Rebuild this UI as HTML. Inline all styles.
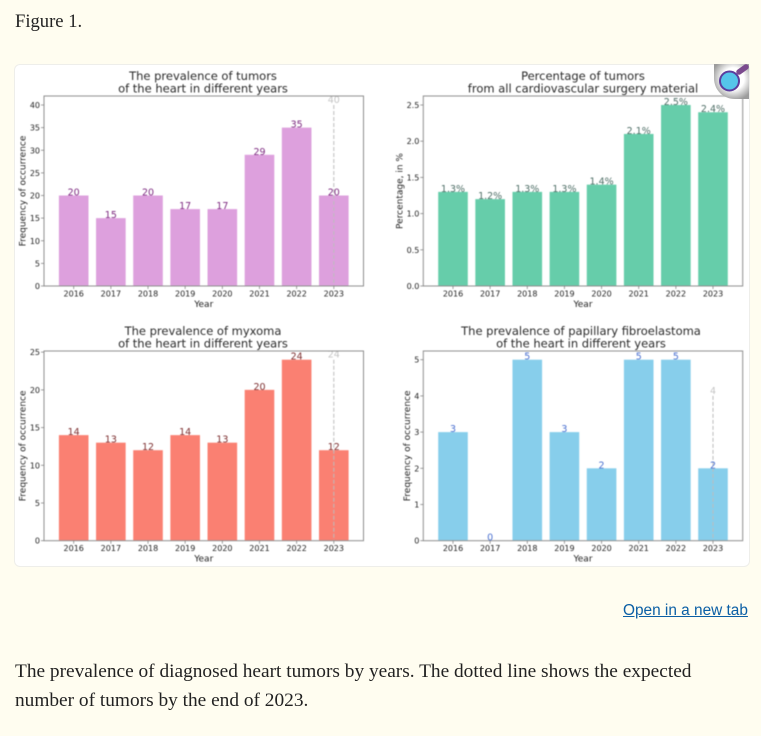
<!DOCTYPE html>
<html lang="en">
<head>
<meta charset="utf-8">
<title>Figure 1</title>
<style>
html,body{margin:0;padding:0;width:761px;height:736px;overflow:hidden;background:#fffdf0;}
body{position:relative;font-family:"Liberation Serif","DejaVu Serif",serif;color:#222;}
.line{position:absolute;white-space:nowrap;font-size:19.35px;}
#card{position:absolute;left:14px;top:64px;width:734px;height:501px;background:#fff;border:1px solid #eeeeea;border-radius:6px;}
#charts{position:absolute;left:0;top:0;filter:blur(0.4px);}
#charts text{font-family:"DejaVu Sans","Liberation Sans",sans-serif;}
#open-link{position:absolute;left:623px;top:602px;font:15.4px "Liberation Sans",sans-serif;color:#0b5fa5;text-decoration:underline;white-space:nowrap;}
</style>
</head>
<body>
<div class="line" style="left:15px;top:11px;font-size:18.6px;">Figure 1.</div>
<div id="card"></div>
<svg id="charts" width="761" height="736" viewBox="0 0 761 736" xmlns="http://www.w3.org/2000/svg"></svg>
<svg style="position:absolute;left:713px;top:64px;" width="37" height="38" viewBox="0 0 37 38">
  <defs><radialGradient id="mg" cx="0.55" cy="0.42" r="0.62"><stop offset="0.5" stop-color="#ffffff"/><stop offset="1" stop-color="#9c9c9c"/></radialGradient></defs>
  <path d="M1 0H36V35H22C10 35 1 26 1 14Z" fill="url(#mg)"/>
  <line x1="26" y1="8" x2="33" y2="3" stroke="#7b4a8e" stroke-width="5.5" stroke-linecap="round"/>
  <circle cx="16.5" cy="17" r="9.5" fill="#55c5ea" stroke="#5b3d9e" stroke-width="2"/>
</svg>
<a id="open-link" href="#">Open in a new tab</a>
<div class="line" style="left:15px;top:660.5px;">The prevalence of diagnosed heart tumors by years. The dotted line shows the expected</div>
<div class="line" style="left:15px;top:689.5px;">number of tumors by the end of 2023.</div>
<script>
const years = ["2016","2017","2018","2019","2020","2021","2022","2023"];

const tumorCounts = [20,15,20,17,17,29,35,20];
const tumorExpected = 40;
const tumorTicks = [0,5,10,15,20,25,30,35,40];

const surgeryPercent = [1.3,1.2,1.3,1.3,1.4,2.1,2.5,2.4];
const surgeryTicks = [0,0.5,1,1.5,2,2.5];

const myxomaCounts = [14,13,12,14,13,20,24,12];
const myxomaExpected = 24;
const myxomaTicks = [0,5,10,15,20,25];

const fibroCounts = [3,0,5,3,2,5,5,2];
const fibroExpected = 4;
const fibroTicks = [0,1,2,3,4,5];

const svg = document.getElementById('charts');
const NS = 'http://www.w3.org/2000/svg';

function make(tag, attrs, parent, content) {
  const el = document.createElementNS(NS, tag);
  for (const k in attrs) el.setAttribute(k, attrs[k]);
  if (content !== undefined) el.textContent = content;
  parent.appendChild(el);
  return el;
}

function drawChart(cfg) {
  const g = make('g', {}, svg);
  
  

  const xScale = i => cfg.left + 29.7 + i * (cfg.right - cfg.left - 59.4) / (years.length - 1);
  const yScale = v => cfg.bottom - (v / cfg.yRef) * (cfg.bottom - cfg.yRefPos);
  const barW = 29.6;

  cfg.values.forEach((v, i) => {
    const bar = make('rect', {x: xScale(i) - barW / 2, y: yScale(v), width: barW, height: cfg.bottom - yScale(v), fill: cfg.color}, g);
    
    
  });

  if (cfg.expected !== null) {
    const last = years.length - 1;
    const dash = make('line', {x1: xScale(last), x2: xScale(last), y1: yScale(cfg.expected), y2: cfg.bottom, stroke: '#bdbdbd', 'stroke-width': 1, 'stroke-dasharray': '4 2'}, g);
    
    
    const exp = make('text', {x: xScale(last), y: yScale(cfg.expected) - 2, 'text-anchor': 'middle', 'font-size': 9.5, fill: '#c4c4c4'}, g, String(cfg.expected));
    
    
  }

  const frame = make('rect', {x: cfg.left, y: cfg.top, width: cfg.right - cfg.left, height: cfg.bottom - cfg.top, fill: 'none', stroke: '#8f8f8f', 'stroke-width': 1}, g);
  
  

  cfg.values.forEach((v, i) => {
    const lab = make('text', {x: xScale(i), y: yScale(v), 'text-anchor': 'middle', 'font-size': 9.5, fill: cfg.labelColor}, g, v + cfg.suffix);
    
    
  });

  years.forEach((yr, i) => {
    make('line', {x1: xScale(i), x2: xScale(i), y1: cfg.bottom, y2: cfg.bottom + 3, stroke: '#777', 'stroke-width': 0.7}, g);
    const t = make('text', {x: xScale(i), y: cfg.bottom + 10.4, 'text-anchor': 'middle', 'font-size': 8, fill: '#222'}, g, yr);
    
    
  });

  cfg.ticks.forEach(v => {
    make('line', {x1: cfg.left - 3, x2: cfg.left, y1: yScale(v), y2: yScale(v), stroke: '#777', 'stroke-width': 0.7}, g);
    const t = make('text', {x: cfg.left - 4, y: yScale(v) + 3, 'text-anchor': 'end', 'font-size': 8, fill: '#222'}, g, cfg.tickFmt(v));
    
    
  });

  cfg.title.forEach((line, i) => {
    const t = make('text', {x: cfg.titleX, y: cfg.top - 16 + i * 12.3, 'text-anchor': 'middle', 'font-size': 11.5, fill: '#2a2a2a'}, g, line);
    
    
  });

  const xt = make('text', {x: (cfg.left + cfg.right) / 2, y: cfg.bottom + 21, 'text-anchor': 'middle', 'font-size': 9, fill: '#222'}, g, 'Year');
  
  

  const cy = (cfg.top + cfg.bottom) / 2;
  const yt = make('text', {x: cfg.yLabelX, y: cy, 'text-anchor': 'middle', 'font-size': 9, fill: '#222', transform: 'rotate(-90 ' + cfg.yLabelX + ' ' + cy + ')'}, g, cfg.yLabel);
  
  
}

const intFmt = v => String(v);
const decFmt = v => v.toFixed(1);

drawChart({name:'chart-tumors', left:44, right:363.5, top:96, bottom:286, yRef:40, yRefPos:105,
  values:tumorCounts, expected:tumorExpected, ticks:tumorTicks, tickFmt:intFmt, suffix:'',
  color:'#dda0dd', labelColor:'#7d2a80', titleX:203, yLabelX:25.5, yLabel:'Frequency of occurrence',
  title:['The prevalence of tumors','of the heart in different years']});

drawChart({name:'chart-surgery-percentage', left:423.3, right:742.7, top:96, bottom:286, yRef:2.5, yRefPos:105,
  values:surgeryPercent, expected:null, ticks:surgeryTicks, tickFmt:decFmt, suffix:'%',
  color:'#66cdaa', labelColor:'#4f6f67', titleX:583, yLabelX:402.5, yLabel:'Percentage, in %',
  title:['Percentage of tumors','from all cardiovascular surgery material']});

drawChart({name:'chart-myxoma', left:44, right:363.5, top:351, bottom:540.7, yRef:24, yRefPos:359.7,
  values:myxomaCounts, expected:myxomaExpected, ticks:myxomaTicks, tickFmt:intFmt, suffix:'',
  color:'#fa8072', labelColor:'#7d2f30', titleX:203, yLabelX:25.5, yLabel:'Frequency of occurrence',
  title:['The prevalence of myxoma','of the heart in different years']});

drawChart({name:'chart-fibroelastoma', left:423.3, right:742.7, top:351, bottom:540.7, yRef:5, yRefPos:359.7,
  values:fibroCounts, expected:fibroExpected, ticks:fibroTicks, tickFmt:intFmt, suffix:'',
  color:'#87ceeb', labelColor:'#4a70d0', titleX:581, yLabelX:410, yLabel:'Frequency of occurrence',
  title:['The prevalence of papillary fibroelastoma','of the heart in different years']});
</script>
</body>
</html>
